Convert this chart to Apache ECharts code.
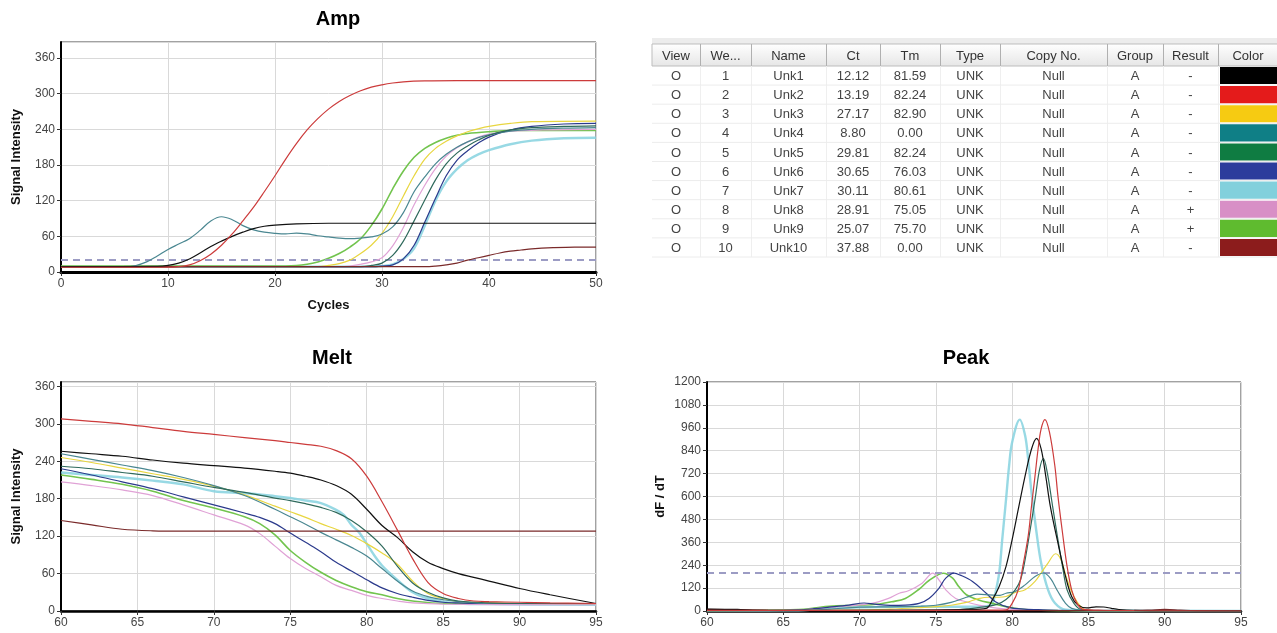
<!DOCTYPE html>
<html>
<head>
<meta charset="utf-8">
<script src="https://cdn.jsdelivr.net/npm/echarts@6/dist/echarts.min.js"></script>
<style>
html,body{margin:0;padding:0;background:#fff;}
#chart{width:1277px;height:633px;}
</style>
</head>
<body>
<div id="chart"></div>
<script>
// ---------- names & colours ----------
const sampleNames = ['Unk1','Unk2','Unk3','Unk4','Unk5','Unk6','Unk7','Unk8','Unk9','Unk10'];
const lineColors = ['#111111','#cc3b3b','#e8d640','#4a8791','#2f6a5c','#2b3a8c','#86d2df','#e0a2d6','#72c44e','#7a2a2a'];
const swatchColors = ['#000000','#e41b1b','#f6cb12','#0f7f86','#0f7c42','#2c3c9c','#82d0dc','#d88fc6','#5fbb2f','#8c1c1c'];

// ---------- table ----------
const tableHeaders = ['View','We...','Name','Ct','Tm','Type','Copy No.','Group','Result','Color'];
const viewMarks = ['O','O','O','O','O','O','O','O','O','O'];
const wellNumbers = ['1','2','3','4','5','6','7','8','9','10'];
const ctValues = ['12.12','13.19','27.17','8.80','29.81','30.65','30.11','28.91','25.07','37.88'];
const tmValues = ['81.59','82.24','82.90','0.00','82.24','76.03','80.61','75.05','75.70','0.00'];
const typeValues = ['UNK','UNK','UNK','UNK','UNK','UNK','UNK','UNK','UNK','UNK'];
const copyValues = ['Null','Null','Null','Null','Null','Null','Null','Null','Null','Null'];
const groupValues = ['A','A','A','A','A','A','A','A','A','A'];
const resultValues = ['-','-','-','-','-','-','-','+','+','-'];

// ---------- Amp (cycle, signal) ----------
const ampUnk1 = [[0,9],[9,9.5],[10,11],[11,15],[12,22],[13,32],[14,43],[15,52],[16,60],[17,67],[18,73],[19,77],[20,79],[22,81],[25,82],[50,82]];
const ampUnk2 = [[0,8],[10,8],[11,9],[12,12],[13,19],[14,30],[15,45],[16,64],[17,86],[18,109],[19,135],[20,162],[21,190],[22,216],[23,239],[24,258],[25,274],[26,287],[27,297],[28,305],[29,311],[30,315],[31,318],[32,320],[34,321.5],[37,322],[50,322]];
const ampUnk3 = [[0,9],[24,9],[25,11],[26,14],[27,20],[28,31],[29,45],[30,65],[31,93],[32,128],[33,162],[34,190],[35,208],[36,220],[37,229],[38,236],[39,241],[40,245],[42,250],[44,253],[50,254]];
const ampUnk4 = [[0,9],[6,9],[7,11],[8,17],[9,27],[10,38],[11,47],[12,56],[13,70],[14,86],[15,93],[16,88],[17,78],[18,71],[19,67],[20,65],[21,64],[22,65.5],[23,64],[24,61],[25,59],[26,57],[27,56],[28,57],[29,59],[30,64],[31,76],[32,100],[33,135],[34,160],[35,182],[36,198],[37,210],[38,219],[39,226],[40,231],[42,237],[44,240],[47,242],[50,243]];
const ampUnk5 = [[0,9],[28,9],[29,11],[30,15],[31,28],[32,52],[33,86],[34,121],[35,155],[36,182],[37,200],[38,212],[39,222],[40,230],[42,239],[44,243],[47,245],[50,246]];
const ampUnk6 = [[0,9],[29,9],[30,10],[31,12],[32,22],[33,45],[34,84],[35,124],[36,162],[37,188],[38,204],[39,217],[40,227],[42,239],[44,245],[47,249],[50,250]];
const ampUnk7 = [[0,9],[29,9],[30,10],[31,13],[32,22],[33,40],[34,78],[35,120],[36,152],[37,173],[38,188],[39,198],[40,205],[42,215],[44,221],[47,225],[50,226]];
const ampUnk8 = [[0,9],[26,9],[27,10],[28,13],[29,17],[30,24],[31,44],[32,75],[33,113],[34,146],[35,174],[36,195],[37,209],[38,219],[39,227],[40,232],[42,237],[45,239],[50,240]];
const ampUnk9 = [[0,10],[20,10],[22,11],[23,13],[24,17],[25,23],[26,31],[27,42],[28,56],[29,78],[30,106],[31,140],[32,170],[33,193],[34,208],[35,218],[36,225],[37,230],[38,233],[40,236],[42,238],[50,238]];
const ampUnk10 = [[0,9],[34,9],[35,10],[36,12],[37,15],[38,20],[39,24],[40,28],[41,32],[42,35],[43,37],[44,39],[46,41],[48,42],[50,42]];
const ampThreshold = 20;

// ---------- Melt (temperature, signal) ----------
const meltUnk1 = [[60,256],[62,252],[64,248],[66,242],[68,237],[70,233],[72,229],[74,224],[75,221],[76,216],[77,210],[78,201],[79,187],[80,163],[81,137],[82,118],[83,95],[84,78],[85,68],[86,60],[87,54],[88,48],[90,36],[92,26],[95,12]];
const meltUnk2 = [[60,308],[62,304],[64,300],[66,294],[68,288],[70,283],[72,278],[74,273],[75,270],[76,267],[77,264],[78,257],[79,244],[80,216],[81,175],[82,130],[83,84],[84,46],[85,28],[86,20],[87,16],[88,15],[90,14],[92,13],[95,12]];
const meltUnk3 = [[60,246],[62,238],[64,229],[66,220],[68,211],[70,200],[72,186],[74,168],[75,159],[76,150],[77,140],[78,131],[79,121],[80,108],[81,93],[82,75],[83,48],[84,28],[85,20],[86,15],[88,13],[90,12],[95,12]];
const meltUnk4 = [[60,252],[62,243],[64,234],[66,225],[68,214],[70,201],[72,185],[74,163],[75,151],[76,139],[77,126],[78,114],[79,102],[80,88],[81,68],[82,48],[83,32],[84,23],[85,18],[86,15],[88,12],[95,12]];
const meltUnk5 = [[60,232],[62,228],[64,222],[66,216],[68,207],[70,198],[72,190],[74,181],[75,177],[76,172],[77,166],[78,158],[79,145],[80,127],[81,104],[82,72],[83,45],[84,30],[85,21],[86,16],[88,13],[90,12],[95,12]];
const meltUnk6 = [[60,228],[62,218],[64,207],[66,196],[68,183],[70,170],[72,157],[73,150],[74,140],[75,125],[76,110],[77,95],[78,78],[79,64],[80,50],[81,37],[82,28],[83,22],[84,17],[85,14],[86,13],[88,12],[95,12]];
const meltUnk7 = [[60,222],[62,218],[64,214],[66,209],[68,203],[70,192],[72,189],[74,184],[75,181],[76,177],[77,173],[78,162],[78.5,154],[79,138],[79.5,126],[80,108],[80.5,89],[81,73],[82,50],[83,30],[84,20],[85,15],[86,12],[88,11],[95,10]];
const meltUnk8 = [[60,207],[62,201],[64,194],[66,185],[68,170],[70,154],[72,138],[73,124],[74,104],[75,84],[76,68],[77,55],[78,41],[79,33],[80,25],[81,20],[82,16],[83,13],[85,11],[95,10]];
const meltUnk9 = [[60,218],[62,211],[64,203],[66,192],[68,177],[70,165],[72,151],[73,140],[74,122],[75,97],[76,78],[77,62],[78,49],[79,39],[80,31],[81,26],[82,20],[83,16],[85,12],[95,11]];
const meltUnk10 = [[60,145],[62,138],[64,131],[66,128.5],[68,128],[95,128]];

// ---------- Peak (temperature, dF/dT) ----------
const peakUnk1 = [[60,10],[62,8],[63,4],[65,2],[70,3],[75,5],[77,8],[78.3,14],[78.7,58],[79.15,128],[79.6,234],[80,374],[80.4,532],[80.85,708],[81.27,849],[81.6,905],[81.9,849],[82.2,708],[82.5,550],[83,357],[83.5,181],[83.9,76],[84.3,32],[84.9,16],[85.5,22],[86,21],[86.5,14],[87,8],[88,3],[90,0],[95,0]];
const peakUnk2 = [[60,3],[75,3],[78,4],[79.6,6],[80,40],[80.4,111],[80.7,234],[81.05,392],[81.27,550],[81.5,708],[81.7,849],[81.9,954],[82.15,1003],[82.45,936],[82.8,760],[83,603],[83.3,410],[83.6,234],[83.9,111],[84.25,40],[84.65,9],[86,4],[88,2],[95,0]];
const peakUnk3 = [[60,2],[70,5],[72,10],[74,18],[75,23],[76,30],[77,45],[77.8,65],[78.5,72],[79.1,72],[79.6,76],[80.2,97],[80.85,111],[81.5,155],[81.9,199],[82.35,251],[82.85,300],[83.2,269],[83.6,164],[84.05,76],[84.5,23],[84.9,5],[86,2],[95,0]];
const peakUnk4 = [[60,2],[66,3],[68,10],[70,20],[72,22],[74,25],[75,30],[76,45],[77,72],[77.7,88],[78.5,85],[79.2,82],[79.6,93],[80.2,102],[80.85,137],[81.5,181],[82.05,199],[82.5,172],[83,102],[83.5,40],[83.9,14],[84.5,5],[86,2],[95,0]];
const peakUnk5 = [[60,2],[76,5],[78,20],[79,35],[79.6,60],[80.2,111],[80.55,164],[80.85,269],[81.15,410],[81.5,585],[81.8,743],[82.05,799],[82.3,726],[82.65,550],[83,374],[83.3,234],[83.6,111],[84.05,40],[84.5,9],[86,2],[95,0]];
const peakUnk6 = [[60,2],[65,4],[66,6],[67,12],[68,20],[69.3,31],[70.3,42],[71,36],[72,30],[73,31],[73.9,40],[74.55,66],[75.2,119],[75.65,172],[76.2,198],[76.6,188],[77.4,155],[78.3,93],[78.9,49],[79.8,19],[80.8,10],[82,6],[83,4],[85,2],[95,0]];
const peakUnk7 = [[60,3],[66,3],[67,8],[68,15],[70,20],[74,22],[77,22],[78,24],[78.5,28],[78.7,35],[78.9,93],[79.15,199],[79.35,374],[79.6,585],[79.8,760],[80,884],[80.5,1003],[80.85,919],[81.05,796],[81.27,621],[81.6,410],[81.9,252],[82.35,112],[82.8,42],[83.5,7],[85,3],[86,2],[95,0]];
const peakUnk8 = [[60,2],[66,5],[67,12],[69,25],[70.8,40],[71.9,66],[72.6,93],[73.2,106],[74.1,146],[74.8,198],[75.2,163],[75.65,111],[76.3,66],[77,48],[77.8,31],[79,15],[80,8],[82,3],[95,0]];
const peakUnk9 = [[60,2],[66,8],[67,15],[68,25],[70,30],[71.3,37],[72.1,48],[73,66],[73.9,114],[74.55,160],[75.5,198],[76.1,172],[76.5,128],[77,85],[77.8,58],[78.7,40],[79.6,23],[80.5,10],[81.5,5],[83,2],[95,0]];
const peakUnk10 = [[60,8],[62,6],[64,3],[66,2],[85,2],[88,3],[89,5],[90,8],[91,5],[92,2],[95,0]];
const peakThreshold = 200;

// ---------- axis ticks ----------
const ampXTicks = {min:0, max:50, interval:10};
const ampYTicks = {min:0, max:387, interval:60};
const meltXTicks = {min:60, max:95, interval:5};
const meltYTicks = {min:0, max:367, interval:60};
const peakXTicks = {min:60, max:95, interval:5};
const peakYTicks = {min:0, max:1200, interval:120};

const ampData = [ampUnk1,ampUnk2,ampUnk3,ampUnk4,ampUnk5,ampUnk6,ampUnk7,ampUnk8,ampUnk9,ampUnk10];
const meltData = [meltUnk1,meltUnk2,meltUnk3,meltUnk4,meltUnk5,meltUnk6,meltUnk7,meltUnk8,meltUnk9,meltUnk10];
const peakData = [peakUnk1,peakUnk2,peakUnk3,peakUnk4,peakUnk5,peakUnk6,peakUnk7,peakUnk8,peakUnk9,peakUnk10];

const FONT = 'Liberation Sans, Arial, sans-serif';
const drawOrder = [6,8,7,2,5,3,4,9,0,1];

function buildSeries(gridIdx, dataList, threshold) {
  const out = [];
  drawOrder.forEach(function (i, k) {
    const s = {
      type: 'line', name: sampleNames[i] + '-' + gridIdx,
      xAxisIndex: gridIdx, yAxisIndex: gridIdx,
      data: dataList[i], smooth: 0.35,
      showSymbol: false, symbol: 'none', silent: true,
      lineStyle: {color: lineColors[i], width: i === 6 ? 2.4 : (i === 8 ? 1.6 : 1.2), opacity: i === 6 ? 0.85 : 1},
      z: 3 + k
    };
    if (k === 0 && threshold !== null) {
      s.markLine = {
        silent: true, symbol: ['none','none'], label: {show: false},
        lineStyle: {color: '#9c9cc4', type: [7,5], width: 2},
        data: [{yAxis: threshold}]
      };
    }
    out.push(s);
  });
  return out;
}

function xAxisCfg(gridIdx, t, name, lineW) {
  return {
    type: 'value', gridIndex: gridIdx, min: t.min, max: t.max, interval: t.interval,
    name: name, nameLocation: 'middle', nameGap: 27,
    nameTextStyle: {fontFamily: FONT, fontWeight: 'bold', fontSize: 13, color: '#111'},
    axisLine: {show: true, onZero: false, lineStyle: {color: '#000', width: lineW}},
    axisTick: {show: true, length: 4, lineStyle: {color: '#333'}},
    axisLabel: {fontFamily: FONT, fontSize: 12, color: '#444', margin: 6, formatter: function (v) { return String(v); }},
    splitLine: {show: true, lineStyle: {color: '#d9d9d9', width: 1}}
  };
}
function yAxisCfg(gridIdx, t, name, gap) {
  return {
    type: 'value', gridIndex: gridIdx, min: t.min, max: t.max, interval: t.interval,
    name: name, nameLocation: 'middle', nameGap: gap,
    nameTextStyle: {fontFamily: FONT, fontWeight: 'bold', fontSize: 13, color: '#111'},
    axisLine: {show: true, onZero: false, lineStyle: {color: '#000', width: 2}},
    axisTick: {show: true, length: 4, lineStyle: {color: '#333'}},
    axisLabel: {fontFamily: FONT, fontSize: 12, color: '#444', margin: 6, showMaxLabel: t.max % t.interval === 0, formatter: function (v) { return String(v); }},
    splitLine: {show: true, lineStyle: {color: '#d9d9d9', width: 1}}
  };
}

// ---------- table graphics ----------
const colEdges = [652,700,751,826,880,940,1000,1107,1163,1218,1282];
const headTop = 44, headH = 22, rowH = 19.1;
const tableCols = [viewMarks, wellNumbers, sampleNames, ctValues, tmValues, typeValues, copyValues, groupValues, resultValues];
const graphics = [];
graphics.push({type:'rect', shape:{x:652,y:38,width:630,height:6}, style:{fill:'#ececec'}, silent:true});
graphics.push({type:'rect', shape:{x:652,y:headTop,width:630,height:headH},
  style:{fill:new echarts.graphic.LinearGradient(0,0,0,1,[{offset:0,color:'#ffffff'},{offset:1,color:'#e6e6e6'}]), stroke:'#bdbdbd', lineWidth:1}, silent:true});
for (let c = 1; c < colEdges.length - 1; c++) {
  graphics.push({type:'line', shape:{x1:colEdges[c]+0.5,y1:headTop,x2:colEdges[c]+0.5,y2:headTop+headH}, style:{stroke:'#b0b0b0',lineWidth:1}, silent:true});
  graphics.push({type:'line', shape:{x1:colEdges[c]+0.5,y1:headTop+headH,x2:colEdges[c]+0.5,y2:headTop+headH+10*rowH}, style:{stroke:'#efefef',lineWidth:1}, silent:true});
}
for (let c = 0; c < tableHeaders.length; c++) {
  graphics.push({type:'text', style:{x:(colEdges[c]+colEdges[c+1])/2 + (c===9?-2:0), y:headTop+headH/2+1, text:tableHeaders[c], font:'13px ' + FONT, fill:'#333', align:'center', verticalAlign:'middle'}, silent:true});
}
for (let r = 0; r < 10; r++) {
  const top = headTop + headH + r*rowH;
  graphics.push({type:'line', shape:{x1:652,y1:top+rowH,x2:1282,y2:top+rowH}, style:{stroke:'#ececec',lineWidth:1}, silent:true});
  for (let c = 0; c < tableCols.length; c++) {
    graphics.push({type:'text', style:{x:(colEdges[c]+colEdges[c+1])/2, y:top+rowH/2+1, text:tableCols[c][r], font:'13px ' + FONT, fill:'#444', align:'center', verticalAlign:'middle'}, silent:true});
  }
  graphics.push({type:'rect', shape:{x:1220,y:top+1,width:60,height:rowH-2}, style:{fill:swatchColors[r]}, silent:true});
}
// titles
graphics.push({type:'text', style:{x:338, y:19, text:'Amp', font:'bold 20px ' + FONT, fill:'#000', align:'center', verticalAlign:'middle'}, silent:true});
graphics.push({type:'text', style:{x:332, y:358, text:'Melt', font:'bold 20px ' + FONT, fill:'#000', align:'center', verticalAlign:'middle'}, silent:true});
graphics.push({type:'text', style:{x:966, y:358, text:'Peak', font:'bold 20px ' + FONT, fill:'#000', align:'center', verticalAlign:'middle'}, silent:true});

const chart = echarts.init(document.getElementById('chart'), null, {renderer:'canvas'});
chart.setOption({
  animation: false,
  backgroundColor: '#fff',
  grid: [
    {left:61, top:42, width:535, height:230, show:true, borderColor:'#444', borderWidth:1, containLabel:false},
    {left:61, top:382, width:535, height:229, show:true, borderColor:'#444', borderWidth:1, containLabel:false},
    {left:707, top:382, width:534, height:229, show:true, borderColor:'#444', borderWidth:1, containLabel:false}
  ],
  xAxis: [
    xAxisCfg(0, ampXTicks, 'Cycles', 3),
    xAxisCfg(1, meltXTicks, '', 2.5),
    xAxisCfg(2, peakXTicks, '', 2.5)
  ],
  yAxis: [
    yAxisCfg(0, ampYTicks, 'Signal Intensity', 38),
    yAxisCfg(1, meltYTicks, 'Signal Intensity', 38),
    yAxisCfg(2, peakYTicks, 'dF / dT', 40)
  ],
  series: [].concat(
    buildSeries(0, ampData, ampThreshold),
    buildSeries(1, meltData, null),
    buildSeries(2, peakData, peakThreshold)
  ),
  graphic: graphics
});
</script>
</body>
</html>
